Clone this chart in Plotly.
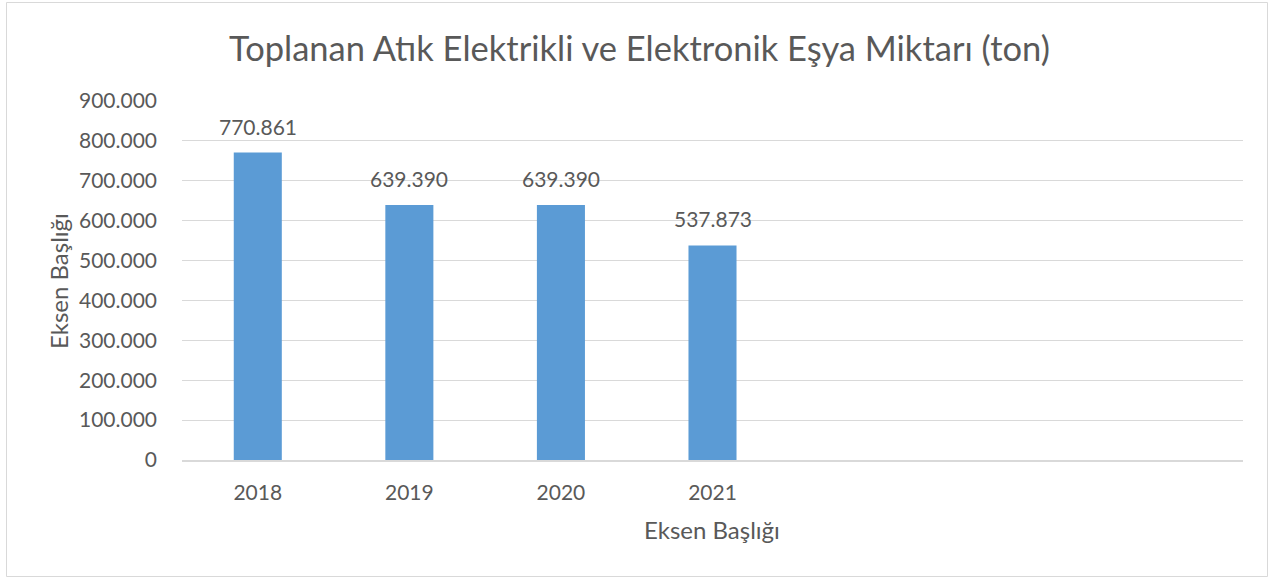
import plotly.graph_objects as go

years = ["2018", "2019", "2020", "2021"]
amounts = [770861, 639390, 639390, 537873]
title_text = "Toplanan Atık Elektrikli ve Elektronik Eşya Miktarı (ton)"
x_title = "Eksen Başlığı"
y_title = "Eksen Başlığı"

W, H = 1271, 578
L, R, T, B = 182, 1243, 101, 460
FONT = "Lato"
TXT = "#595959"
GRID = "#D9D9D9"


def px(x):
    return (x - L) / (R - L)


def py(y):
    return (B - y) / (B - T)


def fmt(v):
    return f"{v:,}".replace(",", ".")


fig = go.Figure(
    go.Bar(x=years, y=amounts, marker=dict(color="#5B9BD5", line=dict(width=0)), hoverinfo="x+y")
)

annotations = [
    dict(x=i, y=v, xref="x", yref="y", text=fmt(v), showarrow=False,
         xanchor="center", yanchor="bottom", yshift=12,
         font=dict(family=FONT, size=21, color=TXT))
    for i, v in enumerate(amounts)
]
annotations.append(dict(x=px(712), y=py(529), xref="paper", yref="paper", text=x_title,
                        showarrow=False, xanchor="center", yanchor="middle",
                        font=dict(family=FONT, size=24, color=TXT)))
annotations.append(dict(x=px(58), y=py(281), xref="paper", yref="paper", text=y_title,
                        showarrow=False, textangle=-90, xanchor="center", yanchor="middle",
                        font=dict(family=FONT, size=24, color=TXT)))
annotations.append(dict(x=px(639), y=py(47), xref="paper", yref="paper", text=title_text,
                        showarrow=False, xanchor="center", yanchor="middle",
                        font=dict(family=FONT, size=34.5, color=TXT)))

fig.update_layout(
    width=W, height=H,
    margin=dict(l=L, r=W - R, t=T, b=H - B, pad=0),
    paper_bgcolor="white", plot_bgcolor="white",
    separators=",.",
    bargap=0.683,
    showlegend=False,
    annotations=annotations,
    shapes=[dict(type="rect", xref="paper", yref="paper",
                 x0=px(6.5), x1=px(1267.5), y0=py(576.5), y1=py(2.5),
                 line=dict(color=GRID, width=1), fillcolor="rgba(0,0,0,0)", layer="below")],
)
fig.update_xaxes(type="category", range=[-0.5, 6.5], showgrid=False, showline=True,
                 linecolor=GRID, linewidth=1.5, ticks="", ticklabelstandoff=13,
                 tickfont=dict(family=FONT, size=21, color=TXT), fixedrange=True)
fig.update_yaxes(range=[0, 900000], tickvals=list(range(0, 900001, 100000)), tickformat=",d",
                 showgrid=True, gridcolor=GRID, gridwidth=1, zeroline=False, showline=False,
                 ticks="", ticklabelstandoff=24,
                 tickfont=dict(family=FONT, size=21, color=TXT), fixedrange=True)

fig.write_html("out.html", config={"displayModeBar": False},
               post_script="document.body.style.margin='0';")
